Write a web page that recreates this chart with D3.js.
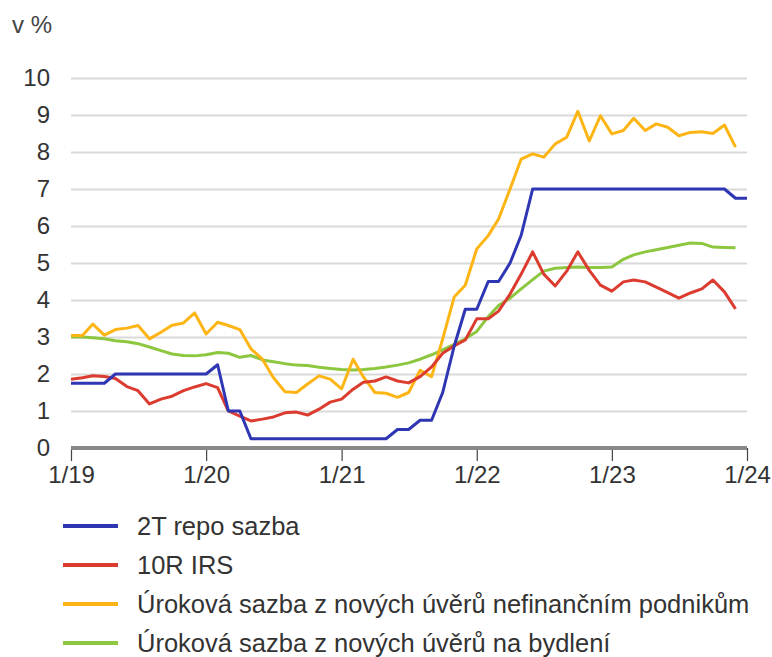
<!DOCTYPE html>
<html>
<head>
<meta charset="utf-8">
<script src="https://cdn.jsdelivr.net/npm/d3@7"></script>
<style>
  body { margin: 0; background: #fff; }
  svg text { font-family: "Liberation Sans", Arial, sans-serif; fill: #333; }
</style>
</head>
<body>
<div class="main"></div>
<script>
// monthly values, Jan 2019 .. Dec 2023 (repo also has Jan 2024)
let repo = [
    1.75, 1.75, 1.75, 1.75, 2, 2, 2, 2, 2, 2, 2, 2,
    2, 2.25, 1, 1, 0.25, 0.25, 0.25, 0.25, 0.25, 0.25, 0.25, 0.25,
    0.25, 0.25, 0.25, 0.25, 0.25, 0.5, 0.5, 0.75, 0.75, 1.5, 2.75, 3.75,
    3.75, 4.5, 4.5, 5, 5.75, 7, 7, 7, 7, 7, 7, 7,
    7, 7, 7, 7, 7, 7, 7, 7, 7, 7, 7, 6.75,
    6.75
];
let irs = [
    1.86, 1.9, 1.95, 1.93, 1.88, 1.66, 1.55, 1.19, 1.32, 1.4, 1.55, 1.65,
    1.74, 1.63, 1.0, 0.86, 0.73, 0.78, 0.84, 0.95, 0.97, 0.89, 1.05, 1.24,
    1.32, 1.59, 1.78, 1.81, 1.92, 1.81, 1.76, 1.93, 2.19, 2.56, 2.76, 2.92,
    3.49, 3.49, 3.7, 4.16, 4.7, 5.3, 4.7, 4.38, 4.78, 5.3, 4.8, 4.4,
    4.24, 4.49, 4.54, 4.49, 4.35, 4.2, 4.05, 4.19, 4.3, 4.54, 4.22, 3.76
];
let podniky = [
    3.04, 3.04, 3.35, 3.05, 3.2, 3.24, 3.31, 2.95, 3.13, 3.32, 3.38, 3.65,
    3.08, 3.4, 3.31, 3.2, 2.68, 2.4, 1.9, 1.52, 1.5, 1.73, 1.95, 1.86,
    1.6, 2.4, 1.92, 1.5, 1.48, 1.37, 1.5, 2.1, 1.93, 2.95, 4.08, 4.4,
    5.38, 5.74, 6.19, 7.0, 7.81, 7.95, 7.86, 8.22, 8.4, 9.1, 8.3, 8.98,
    8.49, 8.58, 8.91, 8.58, 8.76, 8.67, 8.44, 8.53, 8.55, 8.5, 8.73, 8.13
];
let bydleni = [
    3.0, 3.0, 2.98, 2.95, 2.9, 2.87, 2.82, 2.73, 2.63, 2.54, 2.5, 2.49,
    2.52, 2.58, 2.56, 2.45, 2.5, 2.38, 2.33, 2.28, 2.24, 2.23, 2.18, 2.15,
    2.12, 2.11, 2.12, 2.15, 2.19, 2.24, 2.3, 2.4, 2.52, 2.65, 2.8, 2.95,
    3.15, 3.55, 3.85, 4.05, 4.3, 4.55, 4.78, 4.86, 4.88, 4.89, 4.88, 4.88,
    4.89, 5.1, 5.22, 5.3, 5.36, 5.42, 5.48, 5.54, 5.53, 5.43, 5.42, 5.41
];

let seriesNames = [
    "2T repo sazba",
    "10R IRS",
    "Úroková sazba z nových úvěrů nefinančním podnikům",
    "Úroková sazba z nových úvěrů na bydlení"
];
let seriesColors = ["#2f36b4", "#dc3b2f", "#fdb515", "#8dc63f"];
let xTickLabels = ["1/19", "1/20", "1/21", "1/22", "1/23", "1/24"];
let yTicks = [0, 1, 2, 3, 4, 5, 6, 7, 8, 9, 10];

let width = 772;
let height = 657;

let svg = d3.select('.main').append("svg")
    .attr("width", width)
    .attr("height", height);

let start = new Date(2019, 0, 1);
let end = new Date(2024, 0, 1);
let monthOf = i => d3.timeMonth.offset(start, i);

let x = d3.scaleTime().domain([start, end]).range([71, 747]);
let y = d3.scaleLinear().domain([0, 10]).range([448, 78]);

// unit label
svg.append("text")
    .attr("x", 12)
    .attr("y", 33)
    .style("font-size", "24px")
    .style("fill", "#444")
    .text("v %");

// y axis + gridlines
let yAxis = svg.append("g")
    .attr("transform", `translate(${x(start)},0)`)
    .call(d3.axisLeft(y)
        .tickValues(yTicks)
        .tickSize(-(x(end) - x(start)))
        .tickPadding(21)
        .tickFormat(d3.format("d")));
yAxis.select(".domain").remove();
yAxis.selectAll(".tick line")
    .attr("stroke", "#d9d9d9")
    .attr("stroke-width", 2);
yAxis.selectAll(".tick text")
    .style("font-size", "24px")
    .style("fill", "#333");

// x axis
let xTickDates = xTickLabels.map((d, i) => d3.timeYear.offset(start, i));
let xAxis = svg.append("g")
    .attr("transform", `translate(0,${y(0)})`)
    .call(d3.axisBottom(x)
        .tickValues(xTickDates)
        .tickSize(13)
        .tickPadding(5)
        .tickFormat((d, i) => xTickLabels[i]));
xAxis.select(".domain").remove();
xAxis.selectAll(".tick line")
    .attr("stroke", "#444")
    .attr("stroke-width", 1.2);
xAxis.selectAll(".tick text")
    .style("font-size", "24px")
    .style("fill", "#333");

// thick zero line
svg.append("line")
    .attr("x1", x(start))
    .attr("x2", x(end))
    .attr("y1", y(0))
    .attr("y2", y(0))
    .attr("stroke", "#888")
    .attr("stroke-width", 4);

// series
let allSeries = [repo, irs, podniky, bydleni];
let line = d3.line()
    .x((d, i) => x(monthOf(i)))
    .y(d => y(d));

// draw order: green, yellow, red, blue on top
[3, 2, 1, 0].forEach(k => {
    svg.append("path")
        .datum(allSeries[k])
        .attr("fill", "none")
        .attr("stroke", seriesColors[k])
        .attr("stroke-width", 3)
        .attr("stroke-linejoin", "round")
        .attr("d", line);
});

// legend
let legend = svg.append("g");
seriesNames.forEach((name, i) => {
    let ly = 526 + i * 39;
    legend.append("line")
        .attr("x1", 63).attr("x2", 118)
        .attr("y1", ly).attr("y2", ly)
        .attr("stroke", seriesColors[i])
        .attr("stroke-width", 4);
    legend.append("text")
        .attr("x", 137)
        .attr("y", ly)
        .attr("dy", "0.36em")
        .style("font-size", "25.5px")
        .style("fill", "#333")
        .text(name);
});
</script>
</body>
</html>
